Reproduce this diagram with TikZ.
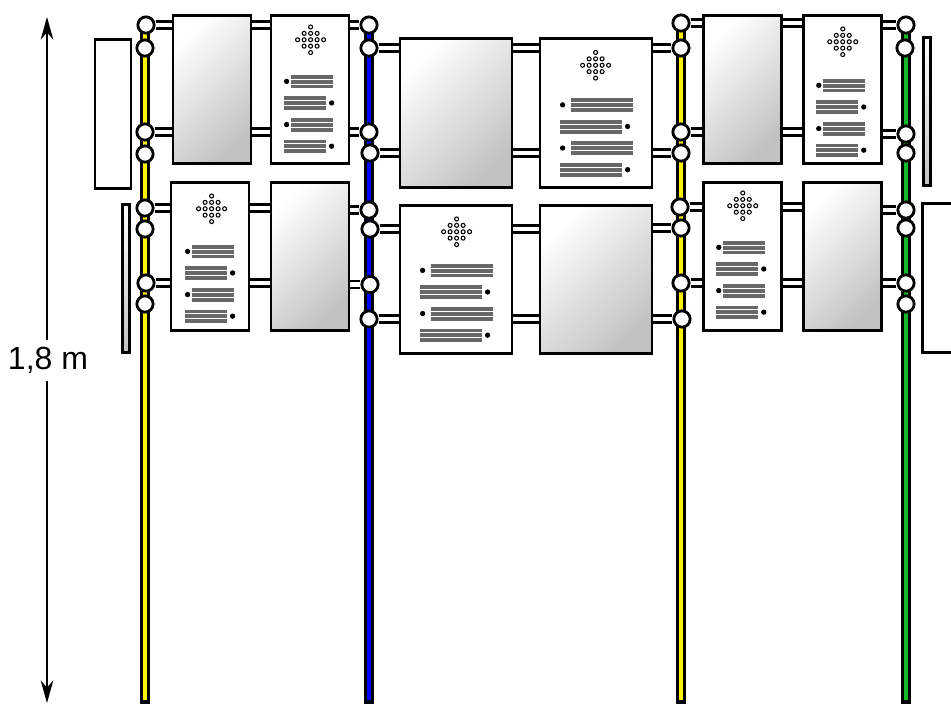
\documentclass[tikz,border=0pt]{standalone}
\usepackage{fontspec}
\usepackage{xcolor}
\setmainfont{Liberation Sans}
\usetikzlibrary{arrows.meta}
\definecolor{railgreen}{RGB}{20,184,40}
\definecolor{barcolor}{RGB}{104,104,104}

\begin{document}
\begin{tikzpicture}[
    x=0.75pt, y=-0.75pt,
    railcase/.style={line width=6.8pt, draw=black},
    railcore/.style={line width=3.5pt},
    panel/.style={rectangle, draw=black, line width=2.2pt, fill=white, inner sep=0pt, minimum height=111.5pt},
    glass/.style={panel, top color=white, bottom color=black!24, shading angle=45},
    strip/.style={panel, top color=white, bottom color=black!24, minimum width=5pt},
    joint/.style={circle, draw=black, line width=2.1pt, fill=white, inner sep=0pt, minimum size=12.2pt},
    rod/.style={draw=black, line width=1.8pt, double=white, double distance=3.2pt},
    ring/.style={draw=black, line width=0.8pt, fill=white},
    bar/.style={fill=barcolor},
    arrow/.style={{Stealth[length=17pt,width=9.5pt]}-{Stealth[length=17pt,width=9.5pt]}, line width=0.9pt}
]
\clip[use as bounding box] (0,0) rectangle (951,704);

% rails
\foreach \n/\x/\c in {a/145/yellow, b/369/blue, c/681/yellow, d/906/railgreen} {
    \coordinate (\n top) at (\x,24);
    \coordinate (\n foot) at (\x,704);
    \draw[railcase] (\n top) -- (\n foot);
    \draw[railcore, draw=\c] (\n top) -- ([yshift=3pt]\n foot);
}

% side boards
\node[panel, minimum width=27pt] (sideA) at (113,114) {};
\node[strip] (sideB) at (126,278.5) {};
\node[strip] (sideC) at (927,111.5) {};
\node[panel, minimum width=32pt] (sideD) at (944,278) {};

% panels
\foreach \n/\x/\y/\w in {grayA/212/89.5/58.5, grayB/456/113/84, grayC/742.5/89.5/59, grayD/310/256.5/58.5, grayE/596/279.5/84, grayF/842.5/256.5/59}
    \node[glass, minimum width=\w pt] (\n) at (\x,\y) {};
\foreach \n/\x/\y/\w in {textA/310/89.5/58.5, textB/596/113/84, textC/842.5/89.5/59, textD/210/256.5/58.5, textE/456/279.5/84, textF/742.5/256.5/59}
    \node[panel, minimum width=\w pt] (\n) at (\x,\y) {};

% clamps on the rails
\foreach \n/\x/\y in {a1/146/25, a2/145/48, a3/145/132, a4/145/154, a5/145/208, a6/145/229, a7/146/283, a8/145/304,
                      b1/369/25, b2/369/48, b3/369/132, b4/370/153, b5/369/210, b6/370/229, b7/370/284.5, b8/369/319,
                      c1/681/23, c2/681/48, c3/681/132, c4/681/153, c5/680/207, c6/681/228, c7/681/283, c8/682/319,
                      d1/906/25, d2/905/48, d3/906/134, d4/906/153, d5/906/210, d6/906/228, d7/906/283, d8/906/304}
    \node[joint] (\n) at (\x,\y) {};

% rods
\foreach \ja/\pa/\pb/\jb in {a1/grayA/textA/b1, a3/grayA/textA/b3, a5/textD/grayD/b5, a7/textD/grayD/b7,
                             b2/grayB/textB/c2, b4/grayB/textB/c4, b6/textE/grayE/c6, b8/textE/grayE/c8,
                             c1/grayC/textC/d1, c3/grayC/textC/d3, c5/textF/grayF/d5, c7/textF/grayF/d7} {
    \draw[rod] (\ja.east) -- (\ja -| \pa.west);
    \draw[rod] (\ja -| \pa.east) -- (\ja -| \pb.west);
    \draw[rod] (\jb -| \pb.east) -- (\jb.west);
}

% printed marks on the text panels
\foreach \n/\ix/\iy/\ax/\bx/\len/\by/\lb/\rb in {textA/40/25/20/13/42/60/16/61, textB/56/27/31/20/62.5/60/23/88,
                                                 textC/40/27/20/13/42/64/16/61, textD/41/27/21/14/42/63/17/62,
                                                 textE/57/27/31/20/62.5/59/23/88, textF/40/24/20/13/42/59/16/61} {
    \begin{scope}[shift={(\n.north west)}, xshift=0.8pt, yshift=-0.8pt]
        \foreach \dx/\dy in {0/-2, -1/-1, 0/-1, 1/-1, -2/0, -1/0, 0/0, 1/0, 2/0, -1/1, 0/1, 1/1, 0/2}
            \draw[ring] ({\ix+\dx*6.5},{\iy+\dy*6.4}) circle (1.5pt);
        \foreach \g/\xx/\bul in {0/\ax/\lb, 1/\bx/\rb, 2/\ax/\lb, 3/\bx/\rb} {
            \foreach \k in {0,1,2}
                \fill[bar] (\xx,{\by+\g*21.6+\k*4.9}) rectangle ++(\len,3.9);
            \fill[black] (\bul,{\by+\g*21.6+6.6}) circle (2pt);
        }
    \end{scope}
}

% height
\coordinate (dimtop) at (47,17);
\coordinate (dimfoot) at (47,703);
\draw[arrow] (dimtop) -- (dimfoot);
\node[fill=white, inner xsep=1pt, inner ysep=0pt, minimum height=30.5pt, font=\fontsize{24}{26}\selectfont] (height) at (48,360.5) {1,8 m};

\end{tikzpicture}
\end{document}
